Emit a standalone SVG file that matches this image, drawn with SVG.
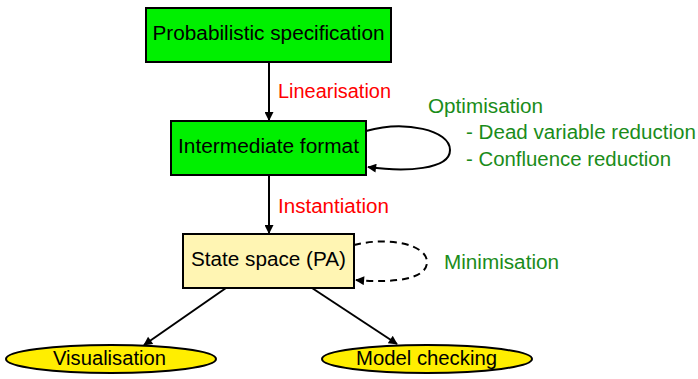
<svg xmlns="http://www.w3.org/2000/svg" width="698" height="379" viewBox="0 0 698 379">
<defs>
<style>
text{font-family:"Liberation Sans",Arial,sans-serif;font-size:19.5px}
.nt{fill:#000;text-anchor:middle}
.red{fill:#ff0000}
.grn{fill:#1a8c1a}
.box{stroke:#000;stroke-width:2}
.edge{fill:none;stroke:#000;stroke-width:2}
.dash{stroke-dasharray:7,5}
</style>
<marker id="ah" viewBox="0 0 10 10" refX="9" refY="5" markerWidth="11" markerHeight="9" markerUnits="userSpaceOnUse" orient="auto"><path d="M0,0 L10,5 L0,10 Z" fill="#000"/></marker>
</defs>
<rect width="698" height="379" fill="#fff"/>
<g id="edges">
<line class="edge" x1="269" y1="62" x2="269" y2="120" marker-end="url(#ah)"/>
<line class="edge" x1="269" y1="175" x2="269" y2="233" marker-end="url(#ah)"/>
<line class="edge" x1="226" y1="288" x2="144" y2="345" marker-end="url(#ah)"/>
<line class="edge" x1="312" y1="288" x2="397" y2="344" marker-end="url(#ah)"/>
<path class="edge" d="M366,131 C405,120 450,130 450,150 C450,170 405,172 368,167" marker-end="url(#ah)"/>
<path class="edge dash" d="M354,245 C390,236 427,245 427,262 C427,280 392,283 356,280" marker-end="url(#ah)"/>
</g>
<g id="n1"><rect class="box" x="146" y="8" width="245" height="54" fill="#00f000"/><text class="nt" x="268.5" y="40" textLength="232" lengthAdjust="spacingAndGlyphs">Probabilistic specification</text></g>
<g id="n2"><rect class="box" x="171" y="121" width="195" height="54" fill="#00f000"/><text class="nt" x="268.5" y="153" textLength="181" lengthAdjust="spacingAndGlyphs">Intermediate format</text></g>
<g id="n3"><rect class="box" x="183" y="234" width="171" height="54" fill="#fff5b3"/><text class="nt" x="268.5" y="266" textLength="155" lengthAdjust="spacingAndGlyphs">State space (PA)</text></g>
<g id="n4"><ellipse class="box" cx="111" cy="359" rx="105" ry="14" fill="#ffee00"/><text class="nt" x="109.5" y="365" textLength="113" lengthAdjust="spacingAndGlyphs">Visualisation</text></g>
<g id="n5"><ellipse class="box" cx="427" cy="359" rx="105" ry="14" fill="#ffee00"/><text class="nt" x="426.5" y="365" textLength="141" lengthAdjust="spacingAndGlyphs">Model checking</text></g>
<g id="labels">
<text class="red" x="278" y="98" textLength="113" lengthAdjust="spacingAndGlyphs">Linearisation</text>
<text class="red" x="278" y="213" textLength="111" lengthAdjust="spacingAndGlyphs">Instantiation</text>
<text class="grn" x="428" y="113" textLength="115" lengthAdjust="spacingAndGlyphs">Optimisation</text>
<text class="grn" x="466" y="139" textLength="230" lengthAdjust="spacingAndGlyphs">- Dead variable reduction</text>
<text class="grn" x="466" y="166" textLength="205" lengthAdjust="spacingAndGlyphs">- Confluence reduction</text>
<text class="grn" x="444" y="269" textLength="115" lengthAdjust="spacingAndGlyphs">Minimisation</text>
</g>
</svg>
